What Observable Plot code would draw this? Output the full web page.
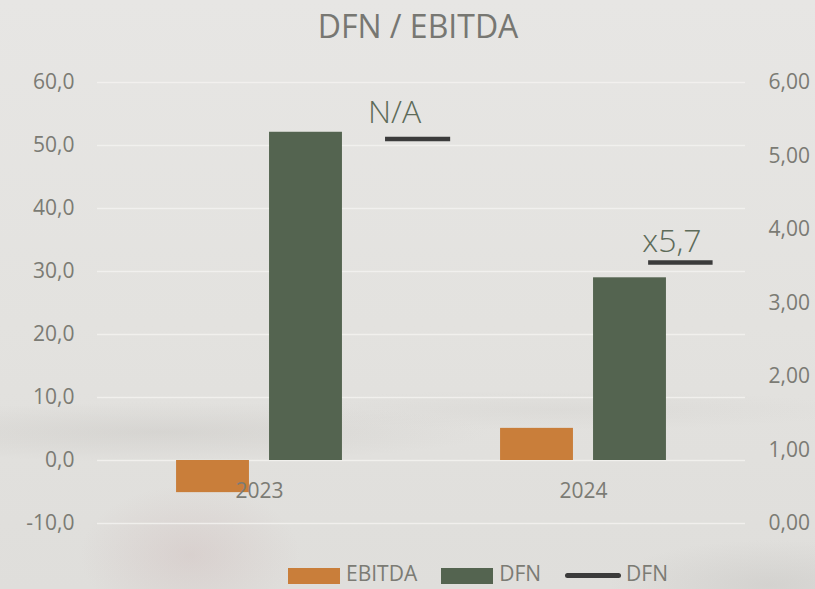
<!DOCTYPE html>
<html>
<head>
<meta charset="utf-8">
<script src="https://cdn.jsdelivr.net/npm/d3@7"></script>
<script src="https://cdn.jsdelivr.net/npm/@observablehq/plot@0.6"></script>
<style>
  html, body { margin: 0; padding: 0; }
  body {
    width: 815px; height: 589px; overflow: hidden; position: relative;
    font-family: "Open Sans", sans-serif;
    background:
      radial-gradient(ellipse 110px 70px at 190px 555px, rgba(196,168,168,0.26), rgba(196,168,168,0) 100%),
      radial-gradient(ellipse 330px 30px at 160px 432px, rgba(185,182,178,0.28), rgba(185,182,178,0) 100%),
      radial-gradient(ellipse 160px 45px at 770px 585px, rgba(190,188,185,0.35), rgba(190,188,185,0) 100%),
      radial-gradient(ellipse 300px 20px at 560px 410px, rgba(200,198,195,0.22), rgba(200,198,195,0) 100%),
      linear-gradient(to bottom, #e7e6e4 0%, #e3e2df 55%, #dfdedb 100%);
  }
  #chart { position: absolute; left: 0; top: 0; }
  #title {
    position: absolute; left: 0; top: 10px; width: 836px; text-align: center;
    font-size: 32px; line-height: 32px; color: #777772;
  }
  #legend {
    position: absolute; left: 288px; top: 559px; height: 29px;
    display: flex; align-items: flex-start; font-size: 21px; line-height: 29px; color: #7b7b74;
  }
  .item { display: flex; align-items: flex-start; margin-right: 24px; }
  .sw { width: 52px; height: 16px; margin-top: 9px; margin-right: 6px; }
  .ln { width: 56px; height: 5px; border-radius: 3px; margin-top: 14px; margin-right: 5px; }
</style>
</head>
<body>
<div id="chart"></div>
<div id="title">DFN / EBITDA</div>
<div id="legend"></div>
<script>
// ---- data ----
const years = ["2023", "2024"];
const ebitda = [-5.1, 5.1];
const dfn = [52.1, 29.0];
const ratio = [5.23, 3.55];          // secondary axis (right)
const ratioLabels = ["N/A", "x5,7"];
const leftTicks = [-10, 0, 10, 20, 30, 40, 50, 60];
const rightTicks = [0, 1, 2, 3, 4, 5, 6];
const legendItems = ["EBITDA", "DFN", "DFN"];

// ---- styling / layout constants ----
const colors = { ebitda: "#c97e3a", dfn: "#546450", line: "#3b3b3b", text: "#7b7b74", label: "#5d6b59" };
const barOff = { ebitda: [0.244, 0.469], dfn: [0.531, 0.756] };
const lineOff = [[0.889, 1.090], [0.701, 0.900]];
const labelX = [0.917, 0.773];
const labelDy = [-15.6, -11];

// map right axis value onto left scale (0 -> -10, 6 -> 60)
const toLeft = r => -10 + r * 70 / 6;

const table = years.map((year, i) => ({
  year, i, ebitda: ebitda[i], dfn: dfn[i], ratio: ratio[i], label: ratioLabels[i]
}));

const chart = Plot.plot({
  width: 815,
  height: 589,
  marginLeft: 97,
  marginRight: 70,
  marginTop: 82,
  marginBottom: 66,
  style: { background: "transparent", fontFamily: "Open Sans, sans-serif", fontSize: "21px", color: colors.text },
  x: { domain: [0, 2], axis: null },
  y: { domain: [-10, 60], axis: null },
  marks: [
    Plot.ruleY(leftTicks, { stroke: "#f3f2f0", strokeWidth: 1.3, strokeOpacity: 0.85 }),
    Plot.axisY({ anchor: "left", ticks: leftTicks, tickSize: 0, tickPadding: 23,
      tickFormat: d => d.toFixed(1).replace(".", ","), fill: colors.text, label: null }),
    Plot.axisY({ anchor: "right", ticks: rightTicks.map(toLeft), tickSize: 0, tickPadding: 23,
      tickFormat: d => ((d + 10) * 6 / 70).toFixed(2).replace(".", ","), fill: colors.text, label: null }),
    Plot.rectY(table, { x1: d => d.i + barOff.ebitda[0], x2: d => d.i + barOff.ebitda[1], y1: 0, y2: "ebitda", fill: colors.ebitda }),
    Plot.rectY(table, { x1: d => d.i + barOff.dfn[0], x2: d => d.i + barOff.dfn[1], y1: 0, y2: "dfn", fill: colors.dfn }),
    Plot.text(table, { x: d => d.i + 0.5, y: 0, dy: 31, text: "year", fill: colors.text, fontSize: 21 }),
    Plot.ruleY(table, { y: d => toLeft(d.ratio), x1: d => d.i + lineOff[d.i][0], x2: d => d.i + lineOff[d.i][1],
      stroke: colors.line, strokeWidth: 4.5 }),
    ...table.map(d => Plot.text([d], { x: e => e.i + labelX[e.i], y: e => toLeft(e.ratio), dy: labelDy[d.i],
      text: "label", lineAnchor: "bottom", fill: colors.label, fontSize: 32, fontWeight: 300 }))
  ]
});
document.getElementById("chart").appendChild(chart);

// legend
const legend = document.getElementById("legend");
const legendColors = [colors.ebitda, colors.dfn, colors.line];
legendItems.forEach((name, k) => {
  const item = document.createElement("div");
  item.className = "item";
  const sw = document.createElement("div");
  sw.className = k === 2 ? "ln" : "sw";
  sw.style.background = legendColors[k];
  const t = document.createElement("span");
  t.textContent = name;
  item.appendChild(sw);
  item.appendChild(t);
  legend.appendChild(item);
});
</script>
</body>
</html>
